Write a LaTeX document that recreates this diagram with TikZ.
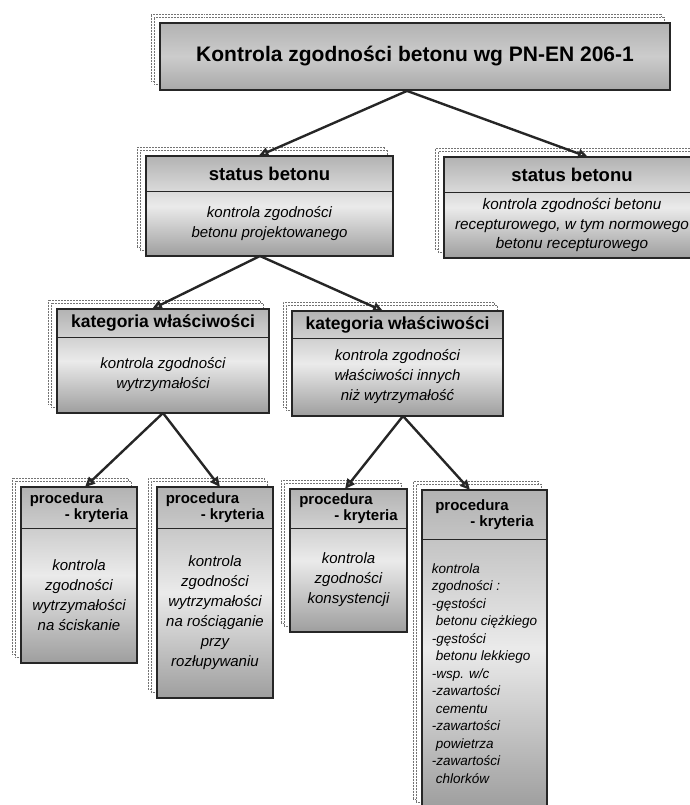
\documentclass[tikz,border=0pt]{standalone}
\usepackage{fontspec}
\setmainfont{Liberation Sans}
\usetikzlibrary{%
    arrows.meta,
    backgrounds,
    fit,
    positioning,
    shadows
}
\tikzset{plate/.style = {draw=black!85, line width=1.8pt,
    top color=black!30, bottom color=black!38, middle color=black!8,
    copy shadow={shadow xshift=-9pt, shadow yshift=9pt, fill=white,
        draw=black!55, line width=.5pt, densely dotted},
    copy shadow={shadow xshift=-6pt, shadow yshift=6pt, fill=white,
        draw=black!55, line width=.5pt, densely dotted}}}
\tikzset{headcell/.style = {draw=black!85, line width=.8pt, inner sep=0pt,
    outer sep=0pt, align=center, minimum width=#1}}
\tikzset{bodycell/.style = {inner sep=0pt, outer sep=0pt, align=center,
    minimum width=#1, font=\fontsize{15}{20}\selectfont\itshape}}
\tikzset{flow/.style = {-{Triangle[open, length=10pt, width=9pt]},
    line width=2.4pt, draw=black!85}}

\begin{document}
\begin{tikzpicture}[x=1pt, y=-1pt]
    \useasboundingbox (0,0) rectangle (690,805);

    \node       (kz) [plate, top color=black!30, bottom color=black!34, middle color=black!20,
                      minimum width=510, minimum height=67,
                      font=\fontsize{21}{25}\selectfont\bfseries] at (415,56.5)
                {Kontrola zgodności betonu wg PN-EN 206-1};

    % status betonu
    \node       (st1h) [headcell=247, minimum height=35, anchor=north,
                        font=\fontsize{18.5}{22}\selectfont\bfseries] at (269.5,156) {status betonu};
    \node       (st1b) [bodycell=247, minimum height=65, below=0pt of st1h]
                {kontrola zgodności\\betonu projektowanego};
    \node       (st2h) [headcell=256, minimum height=35, anchor=north,
                        font=\fontsize{18.5}{22}\selectfont\bfseries] at (572,157) {status betonu};
    \node       (st2b) [bodycell=256, minimum height=66, below=0pt of st2h,
                        font=\fontsize{15.3}{19.5}\selectfont\itshape]
                {kontrola zgodności betonu\\recepturowego, w tym normowego\\betonu recepturowego};

    % kategoria
    \node       (kt1h) [headcell=212, minimum height=28, anchor=north,
                        font=\fontsize{17.5}{20}\selectfont\bfseries] at (163,309) {kategoria właściwości};
    \node       (kt1b) [bodycell=212, minimum height=76, below=0pt of kt1h]
                {kontrola zgodności\\wytrzymałości};
    \node       (kt2h) [headcell=211, minimum height=27, anchor=north,
                        font=\fontsize{17.5}{20}\selectfont\bfseries] at (397.5,311) {kategoria właściwości};
    \node       (kt2b) [bodycell=211, minimum height=78, below=0pt of kt2h]
                {kontrola zgodności\\właściwości innych\\niż wytrzymałość};

    % procedura - kryteria
    \foreach \Name/\X/\Y/\W/\H in {pr1/79/487/116/41, pr2/215/487/116/41,
                                   pr3/348.5/489/117/39, pr4/484.5/490/125/49}
        \node   (\Name h) [headcell=\W, minimum height=\H, anchor=north, align=left,
                           font=\fontsize{15}{16.5}\selectfont\bfseries] at (\X,\Y)
                {procedura\\\hspace*{35pt}- kryteria};
    \node       (pr1b) [bodycell=116, minimum height=135, below=0pt of pr1h]
                {kontrola\\zgodności\\wytrzymałości\\na ściskanie};
    \node       (pr2b) [bodycell=116, minimum height=170, below=0pt of pr2h]
                {kontrola\\zgodności\\wytrzymałości\\na rościąganie\\przy\\rozłupywaniu};
    \node       (pr3b) [bodycell=117, minimum height=104, below=0pt of pr3h]
                {kontrola\\zgodności\\konsystencji};
    \node       (pr4b) [bodycell=125, minimum height=269, below=0pt of pr4h, align=left,
                        font=\fontsize{13.5}{17.5}\selectfont\itshape]
                {kontrola\\zgodności :\\-gęstości\\\hspace*{.3em}betonu ciężkiego\\-gęstości\\
                 \hspace*{.3em}betonu lekkiego\\-wsp. w/c\\-zawartości\\\hspace*{.3em}cementu\\
                 -zawartości\\\hspace*{.3em}powietrza\\-zawartości\\\hspace*{.3em}chlorków};

    \begin{scope}[on background layer]
        \foreach \Name in {st1, st2, kt1, kt2, pr1, pr2, pr3, pr4}
            \node (\Name) [plate, fit=(\Name h)(\Name b), inner sep=0pt] {};
    \end{scope}

    \foreach \Source/\Sx/\Target/\Tx in {kz/-8/st1h/-11, kz/-8/st2h/16,
                                         st1b/-9.5/kt1h/-11, st1b/-9.5/kt2h/-14.5,
                                         kt1b/0/pr1h/6, kt1b/0/pr2h/5,
                                         kt2b/5.5/pr3h/-3.5, kt2b/5.5/pr4h/-14.5}
        \draw[flow] ([xshift=\Sx pt]\Source.south) to ([xshift=\Tx pt]\Target.north);
\end{tikzpicture}
\end{document}
